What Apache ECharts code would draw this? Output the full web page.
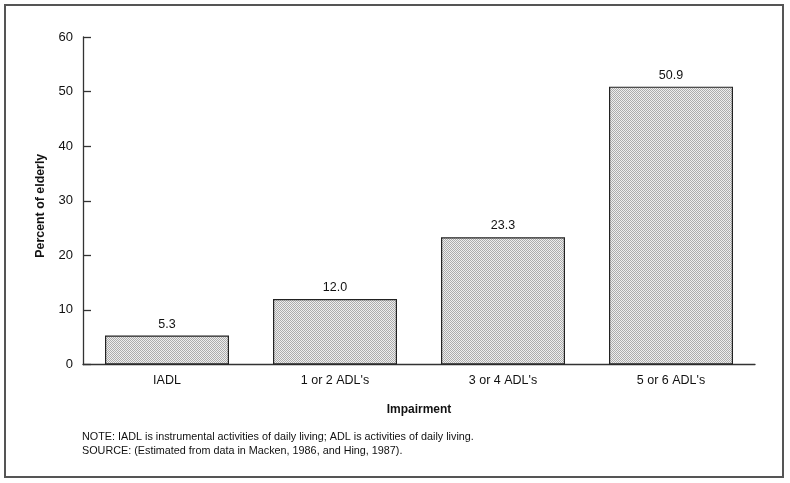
<!DOCTYPE html>
<html>
<head>
<meta charset="utf-8">
<script src="https://cdn.jsdelivr.net/npm/echarts@6/dist/echarts.min.js"></script>
<style>
html,body{margin:0;padding:0;background:#fff;}
#chart{width:790px;height:483px;}
</style>
</head>
<body>
<div id="chart"></div>
<script>
var categories = ["IADL", "1 or 2 ADL's", "3 or 4 ADL's", "5 or 6 ADL's"];
var values = [5.3, 12.0, 23.3, 50.9];
var valueLabels = ["5.3", "12.0", "23.3", "50.9"];
var yTicks = [0, 10, 20, 30, 40, 50, 60];
var noteLines = [
  "NOTE: IADL is instrumental activities of daily living; ADL is activities of daily living.",
  "SOURCE: (Estimated from data in Macken, 1986, and Hing, 1987)."
];

var pc = document.createElement('canvas');
pc.width = 2; pc.height = 2;
var pctx = pc.getContext('2d');
pctx.fillStyle = '#eeeeee'; pctx.fillRect(0,0,2,2);
pctx.fillStyle = '#acacac'; pctx.fillRect(0,0,1,1); pctx.fillRect(1,1,1,1);

var FONT = '"Liberation Sans", Arial, Helvetica, sans-serif';
var chart = echarts.init(document.getElementById('chart'), null, {renderer:'canvas'});
chart.setOption({
  animation: false,
  backgroundColor: '#fff',
  textStyle: {fontFamily: FONT, color: '#111'},
  graphic: [
    {type:'rect', shape:{x:5, y:5, width:778, height:472}, style:{fill:'none', stroke:'#555', lineWidth:2}, silent:true},
    {type:'text', left:82, top:432, style:{text: noteLines[0], font:'10.8px ' + FONT, fill:'#111'}},
    {type:'text', left:82, top:446, style:{text: noteLines[1], font:'10.8px ' + FONT, fill:'#111'}}
  ],
  grid: {left:83, right:35, top:37, bottom:118.5, containLabel:false},
  xAxis: {
    type:'category',
    data: categories,
    name: 'Impairment',
    nameLocation: 'middle',
    nameGap: 39,
    nameTextStyle: {fontWeight:'bold', fontSize:12, color:'#111', fontFamily: FONT},
    axisLine: {show:true, lineStyle:{color:'#333', width:1.3}},
    axisTick: {show:false},
    axisLabel: {fontSize:12.5, color:'#111', margin:10, fontFamily: FONT}
  },
  yAxis: {
    type:'value',
    min: yTicks[0], max: yTicks[yTicks.length-1], interval: 10,
    name: 'Percent of elderly',
    nameLocation: 'middle',
    nameGap: 36,
    nameRotate: 90,
    nameTextStyle: {fontWeight:'bold', fontSize:12.4, color:'#111', fontFamily: FONT, padding:[0,10,0,0]},
    axisLine: {show:true, lineStyle:{color:'#333', width:1.3}},
    axisTick: {show:true, inside:true, length:8, lineStyle:{color:'#333', width:1.3}},
    axisLabel: {fontSize:13, color:'#111', margin:10, fontFamily: FONT},
    splitLine: {show:false}
  },
  series: [{
    type:'bar',
    data: values,
    barWidth: 124,
    itemStyle: {color: {image: pc, repeat:'repeat'}, borderColor:'#222', borderWidth:1.2},
    label: {show:true, position:'top', distance:5, fontSize:12.5, color:'#111', fontFamily: FONT,
      formatter: function(p){ return valueLabels[p.dataIndex]; }}
  }]
});
</script>
</body>
</html>
